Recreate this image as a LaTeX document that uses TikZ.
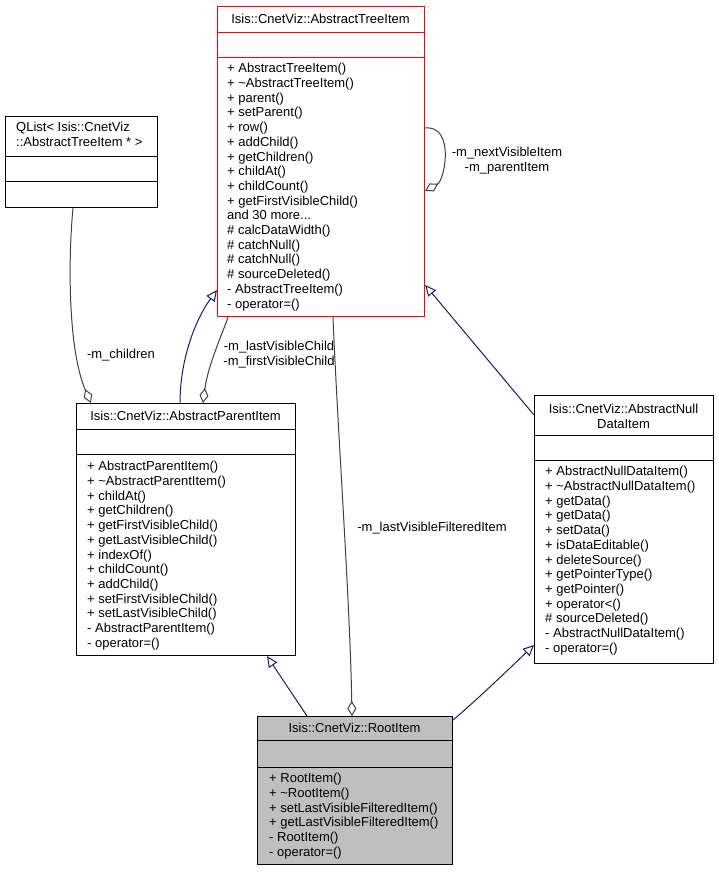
\documentclass[tikz,border=0pt]{standalone}
\usepackage{fontspec}
\setmainfont{Liberation Sans}
\usetikzlibrary{arrows.meta}
\definecolor{edgeblue}{HTML}{191970}
\definecolor{aggrgray}{HTML}{404040}
\definecolor{rootfill}{HTML}{BFBFBF}
\definecolor{treered}{HTML}{FF0000}
\begin{document}
\begin{tikzpicture}[x=1pt,y=-1pt,
  classbox/.style={draw=black, line width=1.1pt, inner sep=0pt, anchor=north west},
  sepline/.style={line width=1pt},
  nametext/.style={font=\fontsize{13}{14.7}\selectfont, inner sep=0pt},
  memtext/.style={font=\fontsize{13}{14.7}\selectfont, inner sep=0pt, anchor=north west, align=left},
  lbltext/.style={font=\fontsize{13}{15}\selectfont, inner sep=0pt, align=center},
  inherit/.style={draw=edgeblue, line width=1pt, -{Triangle[open, length=11pt, width=10pt]}},
  aggr/.style={draw=aggrgray, line width=1pt, -{Diamond[open, length=15pt, width=9pt]}},
]
\useasboundingbox (0,0) rectangle (719,872);

% ---------- AbstractTreeItem ----------
\node[classbox, draw=treered, minimum width=207pt, minimum height=310pt] (tree) at (217,6) {};
\draw[sepline, treered] ([yshift=-26.5pt]tree.north west) -- ([yshift=-26.5pt]tree.north east);
\draw[sepline, treered] ([yshift=-51.5pt]tree.north west) -- ([yshift=-51.5pt]tree.north east);
\node[nametext] (treeName) at (320.5,19) {Isis::CnetViz::AbstractTreeItem};
\node[memtext] (treeOps) at (227,63.2) {+ AbstractTreeItem()\\
+ \textasciitilde AbstractTreeItem()\\
+ parent()\\
+ setParent()\\
+ row()\\
+ addChild()\\
+ getChildren()\\
+ childAt()\\
+ childCount()\\
+ getFirstVisibleChild()\\
and 30 more...\\
\# calcDataWidth()\\
\# catchNull()\\
\# catchNull()\\
\# sourceDeleted()\\
- AbstractTreeItem()\\
- operator=()};

% ---------- QList ----------
\node[classbox, minimum width=152pt, minimum height=91pt] (qlist) at (5,116) {};
\draw[sepline] ([yshift=-40.5pt]qlist.north west) -- ([yshift=-40.5pt]qlist.north east);
\draw[sepline] ([yshift=-65.5pt]qlist.north west) -- ([yshift=-65.5pt]qlist.north east);
\node[memtext] (qlistName) at (16,122.2) {QList< Isis::CnetViz\\::AbstractTreeItem * >};

% ---------- AbstractParentItem ----------
\node[classbox, minimum width=219pt, minimum height=252pt] (parent) at (76,403) {};
\draw[sepline] ([yshift=-26.5pt]parent.north west) -- ([yshift=-26.5pt]parent.north east);
\draw[sepline] ([yshift=-51.5pt]parent.north west) -- ([yshift=-51.5pt]parent.north east);
\node[nametext] (parentName) at (185.5,416) {Isis::CnetViz::AbstractParentItem};
\node[memtext] (parentOps) at (87,461.2) {+ AbstractParentItem()\\
+ \textasciitilde AbstractParentItem()\\
+ childAt()\\
+ getChildren()\\
+ getFirstVisibleChild()\\
+ getLastVisibleChild()\\
+ indexOf()\\
+ childCount()\\
+ addChild()\\
+ setFirstVisibleChild()\\
+ setLastVisibleChild()\\
- AbstractParentItem()\\
- operator=()};

% ---------- AbstractNullDataItem ----------
\node[classbox, minimum width=179pt, minimum height=268pt] (nulldata) at (534,395) {};
\draw[sepline] ([yshift=-40.5pt]nulldata.north west) -- ([yshift=-40.5pt]nulldata.north east);
\draw[sepline] ([yshift=-65.5pt]nulldata.north west) -- ([yshift=-65.5pt]nulldata.north east);
\node[nametext, align=center] (nulldataName) at (623.5,416) {Isis::CnetViz::AbstractNull\\DataItem};
\node[memtext] (nulldataOps) at (545,466.2) {+ AbstractNullDataItem()\\
+ \textasciitilde AbstractNullDataItem()\\
+ getData()\\
+ getData()\\
+ setData()\\
+ isDataEditable()\\
+ deleteSource()\\
+ getPointerType()\\
+ getPointer()\\
+ operator<()\\
\# sourceDeleted()\\
- AbstractNullDataItem()\\
- operator=()};

% ---------- RootItem ----------
\node[classbox, fill=rootfill, minimum width=195pt, minimum height=148pt] (root) at (257,716) {};
\draw[sepline] ([yshift=-24.5pt]root.north west) -- ([yshift=-24.5pt]root.north east);
\draw[sepline] ([yshift=-51.5pt]root.north west) -- ([yshift=-51.5pt]root.north east);
\node[nametext] (rootName) at (354.5,728) {Isis::CnetViz::RootItem};
\node[memtext] (rootOps) at (269,773.2) {+ RootItem()\\
+ \textasciitilde RootItem()\\
+ setLastVisibleFilteredItem()\\
+ getLastVisibleFilteredItem()\\
- RootItem()\\
- operator=()};

% ---------- connectors ----------
% self loop on AbstractTreeItem
\draw[aggr] ([yshift=-122pt]tree.north east) .. controls (455,125) and (445,180) .. ([yshift=-185pt]tree.north east);
\node[lbltext] (lblSelf) at (507,160.5) {-m\_nextVisibleItem\\-m\_parentItem};

% AbstractParentItem inherits AbstractTreeItem
\draw[inherit] ([xshift=104pt]parent.north west) .. controls (180,360) and (195,320) .. ([yshift=-284pt]tree.north west);

% AbstractParentItem aggregates AbstractTreeItem
\draw[aggr] ([xshift=11pt]tree.south west) .. controls (222,335) and (208,365) .. ([xshift=127pt]parent.north west);
\node[lbltext] (lblChild) at (279,355) {-m\_lastVisibleChild\\-m\_firstVisibleChild};

% AbstractParentItem aggregates QList
\draw[aggr] ([xshift=68pt]qlist.south west) .. controls (68,260) and (68,350) .. ([xshift=15pt]parent.north west);
\node[lbltext] (lblChildren) at (121,355) {-m\_children};

% RootItem aggregates AbstractTreeItem
\draw[aggr] ([xshift=116pt]tree.south west) .. controls (337,420) and (350,600) .. ([xshift=95pt]root.north west);
\node[lbltext] (lblFiltered) at (432,528) {-m\_lastVisibleFilteredItem};

% RootItem inherits AbstractParentItem
\draw[inherit] ([xshift=50pt]root.north west) -- ([xshift=191pt]parent.south west);

% RootItem inherits AbstractNullDataItem
\draw[inherit] ([yshift=-4pt]root.north east) .. controls (480,697) and (510,668) .. ([yshift=-250pt]nulldata.north west);

% AbstractNullDataItem inherits AbstractTreeItem
\draw[inherit] ([yshift=-20pt]nulldata.north west) -- ([yshift=-279pt]tree.north east);
\end{tikzpicture}
\end{document}
